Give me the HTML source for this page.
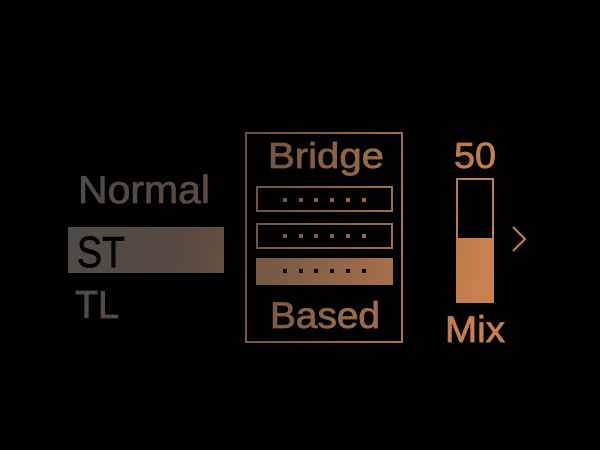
<!DOCTYPE html>
<html><head><style>html,body{margin:0;background:#000;}svg{display:block}</style></head>
<body>
<svg width="600" height="450" xmlns="http://www.w3.org/2000/svg" font-family="Liberation Sans, sans-serif">
<defs>
<linearGradient id="g" gradientUnits="userSpaceOnUse" x1="70" y1="0" x2="510" y2="60">
<stop offset="0" stop-color="#4b4b4a"/><stop offset="0.35" stop-color="#5a4a40"/><stop offset="1" stop-color="#c8804f"/>
</linearGradient>
</defs>
<rect width="600" height="450" fill="#000"/>
<g fill="url(#g)" stroke="url(#g)" stroke-width="0.8">
<text x="78" y="203" font-size="39" textLength="132" lengthAdjust="spacingAndGlyphs">Normal</text>
<text x="75" y="318" font-size="39" textLength="44" lengthAdjust="spacingAndGlyphs">TL</text>
<text x="268" y="168" font-size="36" textLength="116" lengthAdjust="spacingAndGlyphs">Bridge</text>
<text x="270" y="328" font-size="37" textLength="110" lengthAdjust="spacingAndGlyphs">Based</text>
<text x="454" y="168" font-size="36" textLength="42" lengthAdjust="spacingAndGlyphs">50</text>
<text x="445" y="342" font-size="37" textLength="60" lengthAdjust="spacingAndGlyphs">Mix</text>
</g>
<g fill="url(#g)">
<rect x="68" y="227" width="156" height="46"/>
<rect x="256" y="258" width="137" height="27"/>
<rect x="456" y="238" width="38" height="64"/>
</g>
<text x="77" y="267" font-size="44" fill="#000" stroke="#000" stroke-width="0.8" textLength="48" lengthAdjust="spacingAndGlyphs">ST</text>
<g fill="none" stroke="url(#g)" stroke-width="2">
<rect x="246" y="133" width="156" height="209"/>
<rect x="257" y="187" width="135" height="24"/>
<rect x="257" y="224" width="135" height="24"/>
<rect x="457" y="179" width="36" height="123"/>
<polyline points="513,227 525,239 513,251"/>
</g>
<g fill="url(#g)">
<rect x="283" y="198" width="4" height="4"/><rect x="299" y="198" width="4" height="4"/><rect x="314" y="198" width="4" height="4"/><rect x="330" y="198" width="4" height="4"/><rect x="346" y="198" width="4" height="4"/><rect x="362" y="198" width="4" height="4"/>
<rect x="283" y="234" width="4" height="4"/><rect x="299" y="234" width="4" height="4"/><rect x="314" y="234" width="4" height="4"/><rect x="330" y="234" width="4" height="4"/><rect x="346" y="234" width="4" height="4"/><rect x="362" y="234" width="4" height="4"/>
</g>
<g fill="#000">
<rect x="283" y="269" width="4" height="4"/><rect x="299" y="269" width="4" height="4"/><rect x="314" y="269" width="4" height="4"/><rect x="330" y="269" width="4" height="4"/><rect x="346" y="269" width="4" height="4"/><rect x="362" y="269" width="4" height="4"/>
</g>
</svg>
</body></html>
